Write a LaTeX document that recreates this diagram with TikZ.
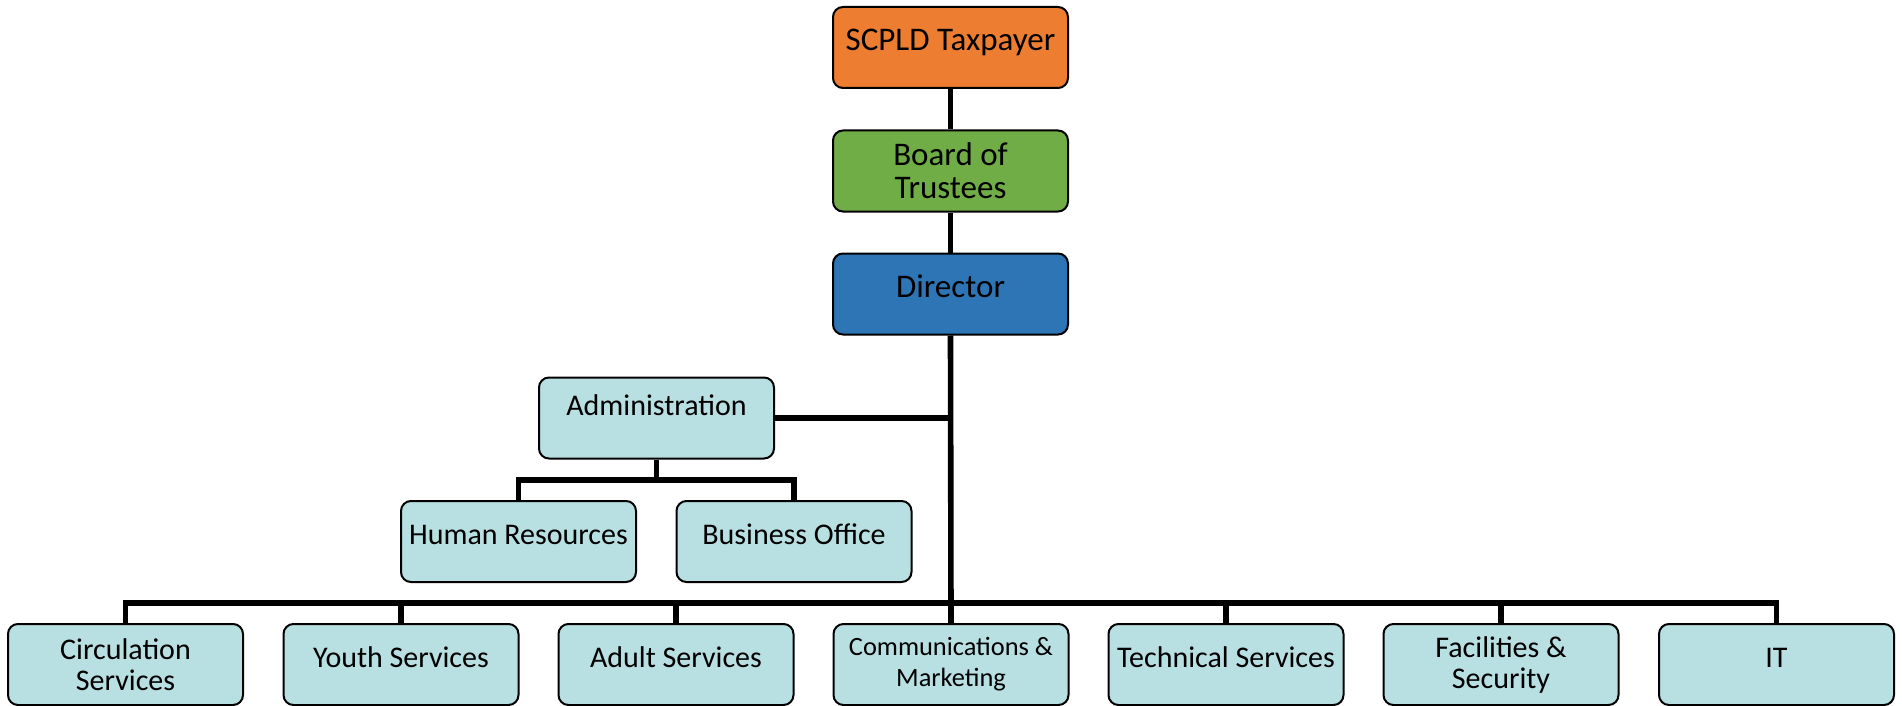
\documentclass[tikz,border=0pt]{standalone}
\usepackage{fontspec}
\setmainfont{Carlito}
\usepackage{xcolor}
\definecolor{taxorange}{HTML}{ED7D31}
\definecolor{boardgreen}{HTML}{70AD47}
\definecolor{dirblue}{HTML}{2E75B6}
\definecolor{unitteal}{HTML}{B8DFE1}
\usetikzlibrary{calc}

\tikzset{
  unit/.style={draw=black, line width=1pt, rounded corners=5pt, fill=unitteal,
    minimum width=117.5pt, minimum height=40.5pt, align=center, inner sep=2pt,
    font=\fontsize{15}{15.5}\selectfont},
  big/.style={font=\fontsize{16.5}{16.5}\selectfont},
  single/.style={text height=11pt, text depth=8pt},
  link/.style={line width=2.8pt},
}

\begin{document}
\begin{tikzpicture}[x=0.5pt,y=-0.5pt]
        \useasboundingbox (0,0) rectangle (1902,706);

        \node [unit, big, single, fill=taxorange] (tax) at (950.5,47.5) {SCPLD Taxpayer};
        \node [unit, big, fill=boardgreen] (board) at (950.5,171) {Board of\\Trustees};
        \node [unit, big, single, fill=dirblue] (dir) at (950.5,294) {Director};

        \node [unit, text height=11pt, text depth=14pt] (admin) at (656.5,418) {Administration};
        \node [unit, single] (hr) at (518.5,541.5) {Human Resources};
        \node [unit, single] (bo) at (794,541.5) {Business Office};

        \node [unit] (circ) at (125.5,664.5) {Circulation\\Services};
        \node [unit, single] (youth) at (401,664.5) {Youth Services};
        \node [unit, single] (adult) at (676,664.5) {Adult Services};
        \node [unit, font=\fontsize{13.2}{15.5}\selectfont] (comm) at (951,664.5) {Communications \&\\Marketing};
        \node [unit, single] (tech) at (1226,664.5) {Technical Services};
        \node [unit] (fac) at (1501,664.5) {Facilities \&\\Security};
        \node [unit, single] (it) at (1776.5,664.5) {IT};

        \coordinate (bus) at (950.5,603);
        \coordinate (admfork) at (656.5,480);

        \draw [link] (tax.south) -- (board.north);
        \draw [link] (board.south) -- (dir.north);
        \draw [link] (dir.south) -- (comm.north);
        \draw [link] (admin.east) -- (admin.east -| dir.south);

        \draw [link] (admin.south) -- (admfork);
        \draw [link] (hr.north) |- (admfork) -| (bo.north);

        \draw [link] (circ.north) |- (bus) -| (it.north);
        \draw [link] (youth.north) -- (youth.north |- bus);
        \draw [link] (adult.north) -- (adult.north |- bus);
        \draw [link] (tech.north) -- (tech.north |- bus);
        \draw [link] (fac.north) -- (fac.north |- bus);
\end{tikzpicture}
\end{document}
